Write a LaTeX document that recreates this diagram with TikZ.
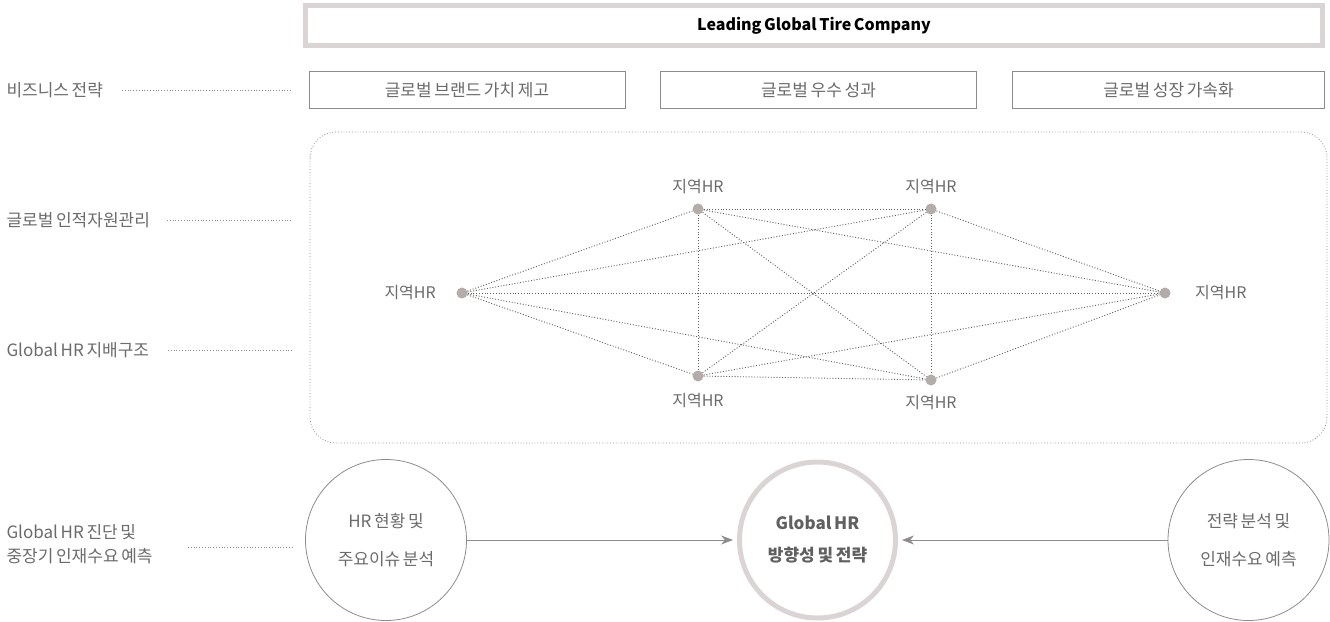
\documentclass[tikz,border=0pt]{standalone}
\usepackage{fontspec}
\setmainfont{Noto Sans CJK KR}[WordSpace=0.7]
\usepackage{xcolor}
\usepackage{tikz}
\usetikzlibrary{positioning,arrows.meta,shapes.geometric}

\definecolor{txtgray}{HTML}{6B6B6B}
\definecolor{linegray}{HTML}{8C8C8C}
\definecolor{dotgray}{HTML}{B4ACA8}
\definecolor{rimgray}{HTML}{DAD5D4}

\begin{document}
\begin{tikzpicture}[x=1pt,y=-1pt,>={Stealth[length=12pt,width=9pt]},
  every node/.style={font=\fontsize{17}{20}\selectfont,text=txtgray},
  goalbox/.style={draw=linegray,line width=0.8pt,minimum width=316pt,minimum height=37pt,inner sep=0pt},
  hrdot/.style={circle,fill=dotgray,minimum size=11pt,inner sep=0pt},
  hrlabel/.style={font=\fontsize{16}{19}\selectfont},
  link/.style={draw=linegray!70!black,line width=0.9pt,dash pattern=on 1pt off 1.8pt},
  guide/.style={draw=linegray,line width=0.8pt,dash pattern=on 0.8pt off 2pt},
  stage/.style={circle,draw=linegray,line width=0.8pt,minimum size=161pt,inner sep=0pt,align=center},
  rowlabel/.style={anchor=west,align=left}]
  \useasboundingbox (0,0) rectangle (1330,621);

  % Vision
  \node (vision) [draw=rimgray,line width=5pt,minimum width=1017pt,minimum height=40pt,
    text=black,font=\fontsize{16}{19}\selectfont\bfseries] at (814,25.5) {Leading Global Tire Company};

  % Row labels
  \node (lbiz) [rowlabel] at (3,90) {비즈니스 전략};
  \node (lhrm) [rowlabel] at (3,220) {글로벌 인적자원관리};
  \node (lgov) [rowlabel] at (3,350) {Global HR 지배구조};
  \node (ldiag) [rowlabel,font=\fontsize{17}{24}\selectfont] at (3,544) {Global HR 진단 및\\중장기 인재수요 예측};
  \coordinate (gbiz) at (292,90);
  \coordinate (ghrm) at (292,220);
  \coordinate (ggov) at (292,350);
  \coordinate (gdiag) at (292,547);
  \draw[guide] (122,90) -- (gbiz);
  \draw[guide] (167,220) -- (ghrm);
  \draw[guide] (168,350) -- (ggov);
  \draw[guide] (188,547) -- (gdiag);

  % Business strategy
  \node (brand) [goalbox] at (467,90) {글로벌 브랜드 가치 제고};
  \node (perf) [goalbox] at (818.5,90) {글로벌 우수 성과};
  \node (growth) [goalbox,minimum width=312pt] at (1168.5,90) {글로벌 성장 가속화};

  % Regional HR network
  \draw[guide,rounded corners=26pt] (310,132) rectangle (1327,443);
  \node (hl) [hrdot] at (462,293) {};
  \node (htl) [hrdot] at (698,209) {};
  \node (htr) [hrdot] at (931,209) {};
  \node (hbl) [hrdot] at (698,376) {};
  \node (hbr) [hrdot] at (931,380) {};
  \node (hr) [hrdot] at (1165,293) {};
  \node [hrlabel,left=17pt of hl] {지역HR};
  \node [hrlabel,above=6pt of htl] {지역HR};
  \node [hrlabel,above=6pt of htr] {지역HR};
  \node [hrlabel,below=8pt of hbl] {지역HR};
  \node [hrlabel,below=6pt of hbr] {지역HR};
  \node [hrlabel,right=21pt of hr] {지역HR};
  \foreach \a/\b in {hl/htl,hl/htr,hl/hr,hl/hbl,hl/hbr,
                     htl/htr,htl/hbl,htl/hbr,htl/hr,
                     htr/hbl,htr/hbr,htr/hr,
                     hbl/hbr,hbl/hr,hbr/hr}
    \draw[link] (\a) -- (\b);

  % Diagnosis and forecast
  \node (now) [stage] at (386,540) {HR 현황 및\\[18pt]주요이슈 분석};
  \node (goal) [stage,draw=rimgray,line width=5pt,minimum size=156pt,text=txtgray!90!black,
    font=\fontsize{17}{20}\selectfont\bfseries] at (817.5,540) {Global HR\\[12pt]방향성 및 전략};
  \node (need) [stage] at (1248.5,540) {전략 분석 및\\[18pt]인재수요 예측};
  \draw[->,linegray,line width=0.8pt,shorten >=4pt] (now) -- (goal);
  \draw[->,linegray,line width=0.8pt,shorten >=4pt] (need) -- (goal);
\end{tikzpicture}
\end{document}
